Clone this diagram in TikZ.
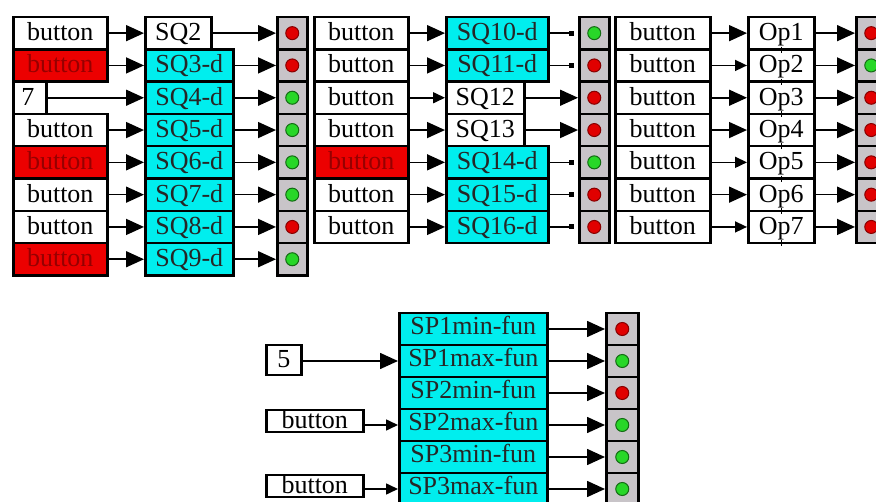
\documentclass[tikz,border=0pt]{standalone}
\usepackage{fontspec}
\setmainfont{Liberation Serif}
\usetikzlibrary{arrows.meta}
\definecolor{cy}{RGB}{0,238,238}
\definecolor{bred}{RGB}{236,0,0}
\definecolor{tred}{RGB}{150,0,0}
\definecolor{cellgray}{RGB}{200,196,200}
\definecolor{ldred}{RGB}{225,0,0}
\definecolor{ldgreen}{RGB}{40,215,40}
\tikzset{
  box/.style={draw=black, line width=2.5pt, inner sep=0pt, anchor=west,
    font=\fontsize{26}{26}\selectfont, text height=18pt, text depth=3pt,
    minimum height=32.3pt},
  wbox/.style={box, fill=white},
  rbox/.style={box, fill=bred, text=tred},
  cbox/.style={box, fill=cy, text=black!85},
  spbox/.style={cbox, minimum width=148pt, minimum height=32pt, text depth=6pt},
  cell/.style={draw=black, line width=2.5pt, fill=cellgray, anchor=west,
    inner sep=0pt, minimum width=30pt, minimum height=32.3pt},
  reddot/.style={circle, inner sep=0pt, minimum size=13pt, fill=ldred, draw=ldred!60!black, line width=1pt},
  grndot/.style={circle, inner sep=0pt, minimum size=13pt, fill=ldgreen, draw=ldgreen!50!black, line width=1pt},
  big/.style={-{Triangle[length=18pt,width=16pt]}, line width=1.6pt},
  small/.style={-{Triangle[length=12pt,width=11pt]}, line width=1.6pt},
  dotc/.style={-{Square[length=5pt,width=5pt]}, line width=1.6pt, shorten >=4pt},
  tick/.style={line width=1.2pt},
}
\begin{document}
\begin{tikzpicture}[x=1pt, y=-1pt]
\fill[white] (0,0) rectangle (876,502);
\clip (0,0) rectangle (876,502);
% row centres, top section
\def\ra{33.15}\def\rb{65.45}\def\rc{97.75}\def\rd{130.05}
\def\re{162.35}\def\rf{194.65}\def\rg{226.95}\def\rh{259.25}
% ---------- column 1 ----------
\node[wbox, minimum width=94pt] (b11) at (12,\ra) {button};
\node[rbox, minimum width=94pt] (b12) at (12,\rb) {button};
\node[wbox, text width=17pt, align=left, inner xsep=8pt] (b13) at (12,\rc) {7};
\node[wbox, minimum width=94pt] (b14) at (12,\rd) {button};
\node[rbox, minimum width=94pt] (b15) at (12,\re) {button};
\node[wbox, minimum width=94pt] (b16) at (12,\rf) {button};
\node[wbox, minimum width=94pt] (b17) at (12,\rg) {button};
\node[rbox, minimum width=94pt] (b18) at (12,\rh) {button};
\node[wbox, minimum width=66pt] (s11) at (144,\ra) {SQ2};
\node[cbox, minimum width=88pt] (s12) at (144,\rb) {SQ3-d};
\node[cbox, minimum width=88pt] (s13) at (144,\rc) {SQ4-d};
\node[cbox, minimum width=88pt] (s14) at (144,\rd) {SQ5-d};
\node[cbox, minimum width=88pt] (s15) at (144,\re) {SQ6-d};
\node[cbox, minimum width=88pt] (s16) at (144,\rf) {SQ7-d};
\node[cbox, minimum width=88pt] (s17) at (144,\rg) {SQ8-d};
\node[cbox, minimum width=88pt] (s18) at (144,\rh) {SQ9-d};
\node[cell] (i11) at (276,\ra) {}; \node[reddot] (d11) at (i11) {};
\node[cell] (i12) at (276,\rb) {}; \node[reddot] (d12) at (i12) {};
\node[cell] (i13) at (276,\rc) {}; \node[grndot] (d13) at (i13) {};
\node[cell] (i14) at (276,\rd) {}; \node[grndot] (d14) at (i14) {};
\node[cell] (i15) at (276,\re) {}; \node[grndot] (d15) at (i15) {};
\node[cell] (i16) at (276,\rf) {}; \node[grndot] (d16) at (i16) {};
\node[cell] (i17) at (276,\rg) {}; \node[reddot] (d17) at (i17) {};
\node[cell] (i18) at (276,\rh) {}; \node[grndot] (d18) at (i18) {};
\foreach \k in {1,...,8}{
  \draw[big] (b1\k.east) -- (s1\k.west);
  \draw[big] (s1\k.east) -- (i1\k.west);
}
% ---------- column 2 ----------
\node[wbox, minimum width=94pt] (b21) at (313,\ra) {button};
\node[wbox, minimum width=94pt] (b22) at (313,\rb) {button};
\node[wbox, minimum width=94pt] (b23) at (313,\rc) {button};
\node[wbox, minimum width=94pt] (b24) at (313,\rd) {button};
\node[rbox, minimum width=94pt] (b25) at (313,\re) {button};
\node[wbox, minimum width=94pt] (b26) at (313,\rf) {button};
\node[wbox, minimum width=94pt] (b27) at (313,\rg) {button};
\node[cbox, minimum width=102pt] (s21) at (445,\ra) {SQ10-d};
\node[cbox, minimum width=102pt] (s22) at (445,\rb) {SQ11-d};
\node[wbox, minimum width=78pt] (s23) at (445,\rc) {SQ12};
\node[wbox, minimum width=78pt] (s24) at (445,\rd) {SQ13};
\node[cbox, minimum width=102pt] (s25) at (445,\re) {SQ14-d};
\node[cbox, minimum width=102pt] (s26) at (445,\rf) {SQ15-d};
\node[cbox, minimum width=102pt] (s27) at (445,\rg) {SQ16-d};
\node[cell] (i21) at (578,\ra) {}; \node[grndot] (d21) at (i21) {};
\node[cell] (i22) at (578,\rb) {}; \node[reddot] (d22) at (i22) {};
\node[cell] (i23) at (578,\rc) {}; \node[reddot] (d23) at (i23) {};
\node[cell] (i24) at (578,\rd) {}; \node[reddot] (d24) at (i24) {};
\node[cell] (i25) at (578,\re) {}; \node[grndot] (d25) at (i25) {};
\node[cell] (i26) at (578,\rf) {}; \node[reddot] (d26) at (i26) {};
\node[cell] (i27) at (578,\rg) {}; \node[reddot] (d27) at (i27) {};
\foreach \k in {1,2,4,5,6,7}{ \draw[big] (b2\k.east) -- (s2\k.west); }
\draw[small] (b23.east) -- (s23.west);
\foreach \k in {1,2,5,6,7}{ \draw[dotc] (s2\k.east) -- (i2\k.west); }
\foreach \k in {3,4}{ \draw[big] (s2\k.east) -- (i2\k.west); }
% ---------- column 3 ----------
\foreach \k/\y in {1/\ra,2/\rb,3/\rc,4/\rd,5/\re,6/\rf,7/\rg}{
  \node[wbox, minimum width=95pt] (b3\k) at (614,\y) {button};
  \node[wbox, minimum width=66pt] (o3\k) at (747,\y) {Op\k};
  \node[cell] (i3\k) at (855,\y) {};
}
\node[reddot] (d31) at (i31) {};
\node[grndot] (d32) at (i32) {};
\foreach \k in {3,...,7}{ \node[reddot] (d3\k) at (i3\k) {}; }
\foreach \k in {1,3,4,6}{ \draw[big] (b3\k.east) -- (o3\k.west); }
\foreach \k in {2,5,7}{ \draw[small] (b3\k.east) -- (o3\k.west); }
\foreach \k in {1,...,7}{
  \draw[big] (o3\k.east) -- (i3\k.west);
  \draw[tick] ([yshift=4pt]o3\k.south) -- ([yshift=-2pt]o3\k.south);
}
% ---------- bottom section ----------
\node[spbox] (p1) at (398,329) {SP1min-fun};
\node[spbox] (p2) at (398,361) {SP1max-fun};
\node[spbox] (p3) at (398,393) {SP2min-fun};
\node[spbox] (p4) at (398,425) {SP2max-fun};
\node[spbox] (p5) at (398,457) {SP3min-fun};
\node[spbox] (p6) at (398,489) {SP3max-fun};
\foreach \k/\y in {1/329,2/361,3/393,4/425,5/457,6/489}{
  \node[cell, minimum width=32pt, minimum height=32pt] (q\k) at (605,\y) {};
  \draw[big] (p\k.east) -- (q\k.west);
}
\node[reddot] (e1) at (q1) {};
\node[grndot] (e2) at (q2) {};
\node[reddot] (e3) at (q3) {};
\node[grndot] (e4) at (q4) {};
\node[grndot] (e5) at (q5) {};
\node[grndot] (e6) at (q6) {};
\node[wbox, minimum width=35pt, minimum height=30pt] (n5) at (265,360) {5};
\node[wbox, minimum width=97pt, minimum height=22pt, text height=17pt, text depth=2pt] (bb1) at (265,421) {button};
\node[wbox, minimum width=97pt, minimum height=22pt, text height=17pt, text depth=2pt] (bb2) at (265,486) {button};
\draw[big] (n5.east |- p2.west) -- (p2.west);
\draw[small] (bb1.east |- p4.west) -- (p4.west);
\draw[small] (bb2.east |- p6.west) -- (p6.west);
\end{tikzpicture}
\end{document}
